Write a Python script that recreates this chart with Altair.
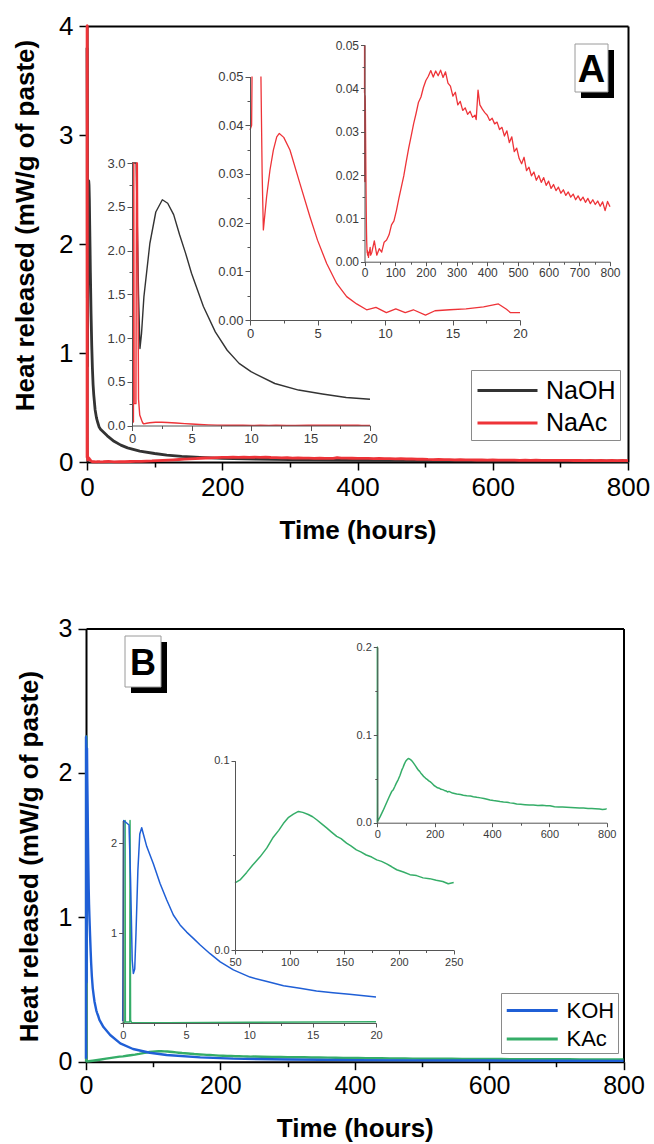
import json
import altair as alt
import pandas as pd

W, H = 654, 1144
FONT = "Liberation Sans"

# ---------------- data (hours, mW/g of paste) ----------------
naoh_t = [0, 0.35, 0.55, 0.67, 0.8, 1.0, 1.5, 2.0, 2.55, 3.0, 3.5, 4.0, 4.5, 5.0, 6.0, 7.0,
          8.0, 9.0, 10.0, 12.0, 14.0, 16.0, 18.0, 20.0, 25, 30, 40, 50, 60, 78, 100, 118,
          140, 167, 200, 250, 300, 400, 500, 600, 700, 800]
naoh_v = [3.8, 3.05, 1.5, 0.88, 1.05, 1.47, 2.08, 2.44, 2.58, 2.54, 2.41, 2.18, 1.97, 1.74,
          1.36, 1.07, 0.86, 0.71, 0.615, 0.48, 0.405, 0.36, 0.32, 0.30, 0.27, 0.24, 0.19,
          0.155, 0.13, 0.10, 0.078, 0.064, 0.052, 0.043, 0.034, 0.027, 0.022, 0.016, 0.013,
          0.011, 0.0095, 0.0085]

naac_t = [0, 0.12, 0.15, 0.18, 0.33, 0.38, 0.45, 0.55, 0.65, 0.81, 0.9, 0.99, 1.23, 1.48,
          1.73, 1.98, 2.17, 2.5, 2.96, 3.7, 4.44, 5.0, 5.68, 6.42, 7.16, 7.9, 8.64, 9.33, 10.1,
          10.8, 11.5, 12.1, 13.0, 13.7, 14.8, 16.0, 17.3, 18.4, 19.0, 19.3, 20.0,
          24, 32, 40, 48, 56, 64, 72, 80, 88, 96, 104, 112, 120, 128, 136, 144, 152, 160,
          168, 176, 184, 192, 200, 208, 216, 224, 232, 240, 248, 256, 264, 272, 280, 288,
          296, 304, 312, 320, 328, 336, 344, 352, 360, 364, 370, 376, 384, 392, 400, 408,
          416, 424, 432, 440, 448, 456, 464, 472, 480, 488, 496, 504, 512, 520, 528, 536,
          544, 552, 560, 568, 576, 584, 592, 600, 608, 616, 624, 632, 640, 648, 656, 664,
          672, 680, 688, 696, 704, 712, 720, 728, 736, 744, 752, 760, 768, 776, 784, 792, 800]
naac_v = [0.039, 0.040, 6.0, 0.25, 0.25, 6.0, 3.5, 0.3, 0.12, 0.06, 0.03, 0.0185, 0.0253,
          0.0308, 0.0349, 0.0376, 0.0383, 0.0375, 0.0349, 0.028, 0.0212, 0.0164, 0.0116,
          0.0075, 0.0048, 0.0033, 0.0021, 0.0026, 0.0015, 0.0023, 0.0015, 0.0021, 0.001,
          0.0019, 0.0021, 0.0023, 0.0027, 0.0033, 0.0022, 0.0015, 0.0015,
          0.0022, 0.0048, 0.0015, 0.0030, 0.0022, 0.0045, 0.0050, 0.0062, 0.0085, 0.0094,
          0.0118, 0.0146, 0.0172, 0.0198, 0.0231, 0.0262, 0.0290, 0.0318, 0.0342, 0.0368,
          0.0380, 0.0402, 0.0418, 0.0428, 0.0441, 0.0426, 0.0440, 0.0429, 0.0442, 0.0425,
          0.0438, 0.0412, 0.0405, 0.0382, 0.0391, 0.0362, 0.0370, 0.0349, 0.0355, 0.0340,
          0.0347, 0.0333, 0.0338, 0.0328, 0.0396, 0.0362, 0.0352, 0.0344, 0.0338, 0.0326,
          0.0331, 0.0318, 0.0322, 0.0305, 0.0310, 0.0290, 0.0302, 0.0275, 0.0288, 0.0254,
          0.0262, 0.0238, 0.0226, 0.0241, 0.0210, 0.0218, 0.0198, 0.0207, 0.0188, 0.0199,
          0.0183, 0.0194, 0.0176, 0.0186, 0.0169, 0.0178, 0.0164, 0.0172, 0.0158, 0.0166,
          0.0153, 0.0161, 0.0149, 0.0156, 0.0143, 0.0152, 0.0141, 0.0149, 0.0137, 0.0146,
          0.0134, 0.0143, 0.0132, 0.0140, 0.0128, 0.0138, 0.0118, 0.0139, 0.0127]

koh_t = [0, 0.08, 0.5, 0.62, 0.75, 0.84, 0.95, 1.05, 1.2, 1.35, 1.5, 1.63, 1.9, 2.42, 2.95,
         3.47, 4.0, 4.53, 5.05, 5.58, 6.1, 6.9, 7.7, 8.74, 10.05, 11.4, 12.7, 14.0, 15.3,
         16.6, 17.9, 20.0, 26, 36, 51, 70, 95, 120, 170, 219, 300, 400, 500, 600, 700, 800]
koh_v = [0.02, 2.25, 2.2, 1.6, 0.7, 0.55, 0.6, 1.0, 1.7, 2.1, 2.17, 2.1, 1.96, 1.77, 1.55,
         1.37, 1.2, 1.09, 1.01, 0.94, 0.87, 0.77, 0.68, 0.59, 0.51, 0.46, 0.415, 0.385,
         0.356, 0.337, 0.32, 0.29, 0.24, 0.185, 0.127, 0.088, 0.062, 0.046, 0.03, 0.021,
         0.015, 0.011, 0.009, 0.008, 0.007, 0.006]

kac_t = [0, 0.17, 0.19, 0.21, 0.56, 0.58, 0.62, 0.7, 1.0, 3.5, 10, 20, 30, 40, 50, 55, 60.7,
         66, 72.9, 79, 85, 90, 94.2, 99, 103.4, 108, 112, 117, 121, 124.7, 129, 133.8, 138,
         143, 147, 152, 156, 161, 165, 170, 175, 179.6, 184, 188.7, 193, 197.9, 204, 210,
         216, 222, 228, 234, 240, 245, 250, 262, 277, 290, 300, 312, 325, 335, 347, 360,
         372, 383, 393, 405, 417, 428, 440, 452, 463, 475, 486, 500, 515, 530, 544, 560,
         575, 590, 602, 618, 632, 646, 660, 675, 690, 705, 719, 735, 748, 760, 775, 785,
         794, 800]
kac_v = [0.0, 0.01, 2.25, 0.01, 0.01, 2.25, 0.03, 0.005, 0.002, 0.003, 0.007, 0.0137, 0.021,
         0.0285, 0.0355, 0.0372, 0.0410, 0.0448, 0.0492, 0.0538, 0.0596, 0.0632, 0.0668,
         0.0701, 0.0718, 0.0732, 0.0727, 0.0716, 0.0704, 0.0688, 0.0668, 0.0645, 0.0624,
         0.0600, 0.0588, 0.0565, 0.0550, 0.0529, 0.0518, 0.0502, 0.0491, 0.0476, 0.0468,
         0.0455, 0.0441, 0.0424, 0.0412, 0.0398, 0.0393, 0.0381, 0.0377, 0.0368, 0.0362,
         0.0350, 0.0357, 0.0338, 0.0327, 0.0322, 0.0313, 0.0308, 0.0304, 0.0296, 0.0289,
         0.0283, 0.0276, 0.0268, 0.0259, 0.0252, 0.0247, 0.0241, 0.0236, 0.0233, 0.0226,
         0.0221, 0.0213, 0.0209, 0.0205, 0.0201, 0.0202, 0.0196, 0.0199, 0.0192, 0.0194,
         0.0183, 0.0180, 0.0178, 0.0175, 0.0172, 0.0170, 0.0168, 0.0167, 0.0163, 0.0161,
         0.0160, 0.0156, 0.0150, 0.0152, 0.0160]

series_a = ["NaOH", "NaAc"]
colors_a = ["#333333", "#ee3338"]
series_b = ["KOH", "KAc"]
colors_b = ["#1f5fd6", "#35ad68"]


def frame(name, t, v):
    return pd.DataFrame({"series": name, "t": t, "v": v})


df_a = pd.concat([frame("NaOH", naoh_t, naoh_v), frame("NaAc", naac_t, naac_v)], ignore_index=True)
df_b = pd.concat([frame("KAc", kac_t, kac_v), frame("KOH", koh_t, koh_v)], ignore_index=True)


# ---------------- helpers ----------------
def ax(orient, pix, values, majors, fmt, size, tmaj, tmin, color, dwidth, lcolor,
       pad, title=None, **kw):
    offset = -pix if orient == "left" else -(H - pix)
    test = "indexof(%s, datum.value) < 0" % json.dumps(majors)
    show = "indexof(%s, datum.value) >= 0 ? datum.label : ''" % json.dumps(majors)
    args = dict(orient=orient, offset=offset, values=values, format=fmt, labelExpr=show,
                tickSize={"condition": {"test": test, "value": tmin}, "value": tmaj},
                labelFont=FONT, labelFontSize=size, labelColor=lcolor, labelPadding=pad,
                labelFlush=False, labelOverlap=False, grid=False,
                domainColor=color, domainWidth=dwidth, tickColor=color,
                tickWidth=max(1.0, dwidth * 0.75), title=title)
    args.update(kw)
    return alt.Axis(**args)


def steps(a, b, s, nd):
    out, k = [], 0
    while True:
        val = round(a + k * s, nd)
        if val > b + 1e-9:
            break
        out.append(val)
        k += 1
    return out


def line_layer(df, xdom, xr, ydom, yr, xaxis, yaxis, dom, rng, legend, sw, flt=None):
    ch = alt.Chart(df)
    if flt is not None:
        ch = ch.transform_filter(flt)
    top = ydom[1]
    # points that lie off-scale between two off-scale neighbours are left out,
    # so the path breaks above the top of the axis instead of running along it
    ch = ch.transform_window(
        prev="lag(v)", nxt="lead(v)", groupby=["series"], sort=[alt.SortField("t")]
    ).transform_calculate(
        vv="(datum.v > %r && datum.prev > %r && datum.nxt > %r) ? null : datum.v" % (top, top, top)
    )
    return ch.mark_line(strokeWidth=sw, strokeJoin="round",
                        invalid="break-paths-filter-domains").encode(
        x=alt.X("t:Q", scale=alt.Scale(domain=xdom, range=xr, nice=False, zero=False), axis=xaxis),
        y=alt.Y("vv:Q", scale=alt.Scale(domain=ydom, range=yr, nice=False, zero=False, clamp=True), axis=yaxis),
        color=alt.Color("series:N", scale=alt.Scale(domain=dom, range=rng), legend=legend),
    )


def frame_layer(df, xdom, xr, ydom, yr, top_pix, right_pix):
    return alt.Chart(df).mark_line(opacity=0).encode(
        x=alt.X("t:Q", scale=alt.Scale(domain=xdom, range=xr, nice=False, zero=False),
                axis=alt.Axis(orient="top", offset=-top_pix, labels=False, ticks=False,
                              domainColor="black", domainWidth=2, title=None, grid=False)),
        y=alt.Y("v:Q", scale=alt.Scale(domain=ydom, range=yr, nice=False, zero=False),
                axis=alt.Axis(orient="right", offset=-(W - right_pix), labels=False, ticks=False,
                              domainColor="black", domainWidth=2, title=None, grid=False)),
    )


def legend(x, y, fsize, line_len, row_gap, pad):
    # wide horizontal stroke symbol: path spans twice the layout box of the symbol
    d = line_len / 2.0
    return alt.Legend(orient="none", legendX=x, legendY=y, title=None, labelFont=FONT,
                      labelFontSize=fsize, labelColor="black", symbolType="M-2,0L2,0",
                      symbolSize=d * d, symbolStrokeWidth=3, symbolOffset=d / 2 + 1,
                      labelOffset=d / 2 + 7, padding=pad, rowPadding=row_gap - d,
                      strokeColor="#8a8a8a", fillColor="white", direction="vertical")


main_common = dict(color="black", dwidth=2, lcolor="black", tmaj=8, tmin=5,
                   titleFont=FONT, titleFontSize=26, titleFontWeight="bold", titleColor="black")

# ---------------- panel A ----------------
A_X, A_R, A_Y0, A_Y1 = 87, 628, 462, 26
main_a = line_layer(
    df_a, [0, 800], [A_X, A_R], [0, 4], [A_Y0, A_Y1],
    ax("bottom", A_Y0, steps(0, 800, 100, 0), [0, 200, 400, 600, 800], "d", 26, pad=4.5,
       title="Time (hours)", titlePadding=17, **main_common),
    ax("left", A_X, steps(0, 4, 0.5, 1), [0, 1, 2, 3, 4], "d", 26, pad=6,
       title="Heat released (mW/g of paste)", titlePadding=20, titleY=225, **main_common),
    series_a, colors_a, legend(471, 370, 25, 60, 32.4, 4), 2.8,
)

# ---------------- panel B ----------------
B_X, B_R, B_Y0, B_Y1 = 86, 623.5, 1061.7, 628.5
main_b = line_layer(
    df_b, [0, 800], [B_X, B_R], [0, 3], [B_Y0, B_Y1],
    ax("bottom", B_Y0, steps(0, 800, 100, 0), [0, 200, 400, 600, 800], "d", 25, pad=4,
       title="Time (hours)", titlePadding=17, **main_common),
    ax("left", B_X, steps(0, 3, 0.5, 1), [0, 1, 2, 3], "d", 25, pad=6,
       title="Heat released (mW/g of paste)", titlePadding=16, titleY=856, **main_common),
    series_b, colors_b, legend(501, 993, 22, 51, 28, 3), 2.4,
)

frame_a = frame_layer(df_a, [0, 800], [A_X, A_R], [0, 4], [A_Y0, A_Y1], A_Y1, A_R)
frame_b = frame_layer(df_b, [0, 800], [B_X, B_R], [0, 3], [B_Y0, B_Y1], B_Y1, B_R)

ins = dict(color="#555555", dwidth=1, lcolor="#3a3a3a", pad=2, zindex=1)

# inset A1
a1 = line_layer(
    df_a, [0, 20], [132, 370], [0, 3], [425.5, 163],
    ax("bottom", 425.5, steps(0, 20, 2.5, 1), [0, 5, 10, 15, 20], "d", 13, tmaj=5, tmin=3, **ins),
    ax("left", 132, steps(0, 3, 0.25, 2), [0, 0.5, 1, 1.5, 2, 2.5, 3], ".1f", 13, tmaj=5, tmin=3, **ins),
    series_a, colors_a, None, 1.4, flt=alt.datum.t <= 20,
)
# inset A2
a2 = line_layer(
    df_a, [0, 20], [250, 520], [0, 0.05], [320, 76.5],
    ax("bottom", 320, steps(0, 20, 2.5, 1), [0, 5, 10, 15, 20], "d", 13, tmaj=5, tmin=3, **ins),
    ax("left", 250, steps(0, 0.05, 0.005, 3), [0, 0.01, 0.02, 0.03, 0.04, 0.05], ".2f", 13, tmaj=5, tmin=3, **ins),
    series_a, colors_a, None, 1.3,
    flt=(alt.datum.t <= 20) & (alt.datum.series == "NaAc"),
)
# inset A3
a3 = line_layer(
    df_a, [0, 800], [364.5, 610], [0, 0.05], [261.7, 45],
    ax("bottom", 261.7, steps(0, 800, 50, 0), steps(0, 800, 100, 0), "d", 12, tmaj=4, tmin=2.5, **ins),
    ax("left", 364.5, steps(0, 0.05, 0.005, 3), [0, 0.01, 0.02, 0.03, 0.04, 0.05], ".2f", 12, tmaj=4, tmin=2.5, **ins),
    series_a, colors_a, None, 1.3, flt=alt.datum.series == "NaAc",
)
# inset B1
b1 = line_layer(
    df_b, [0, 20], [122.7, 376], [0, 2.25], [1023, 820.5],
    ax("bottom", 1023, steps(0, 20, 2.5, 1), [0, 5, 10, 15, 20], "d", 11, tmaj=4, tmin=2.5, **ins),
    ax("left", 122.7, steps(0, 2, 0.5, 1), [1, 2], "d", 11, tmaj=4, tmin=2.5, **ins),
    series_b, colors_b, None, 1.5, flt=alt.datum.t <= 20,
)
# inset B2
b2 = line_layer(
    df_b, [50, 250], [235, 453.7], [0, 0.1], [950, 760.7],
    ax("bottom", 950, steps(50, 250, 25, 0), [50, 100, 150, 200, 250], "d", 11, tmaj=4, tmin=2.5, **ins),
    ax("left", 235, steps(0, 0.1, 0.05, 2), [0, 0.1], ".1f", 11, tmaj=4, tmin=2.5, **ins),
    series_b, colors_b, None, 1.5,
    flt=(alt.datum.series == "KAc") & (alt.datum.t >= 50) & (alt.datum.t <= 250),
)
# inset B3
b3 = line_layer(
    df_b, [0, 800], [377.3, 606.7], [0, 0.2], [822.7, 647.3],
    ax("bottom", 822.7, steps(0, 800, 100, 0), [0, 200, 400, 600, 800], "d", 11, tmaj=4, tmin=2.5, **ins),
    ax("left", 377.3, steps(0, 0.2, 0.05, 2), [0, 0.1, 0.2], ".1f", 11, tmaj=4, tmin=2.5, **ins),
    series_b, colors_b, None, 1.5, flt=alt.datum.series == "KAc",
)

# ---------------- panel tags ----------------
one = pd.DataFrame({"k": [0]})


def tag(letter, x0, y0, x1, y1, tx, ty, size):
    shadow = alt.Chart(one).mark_rect(color="black").encode(
        x=alt.value(x0 + 6), x2=alt.value(x1 + 6), y=alt.value(y0 + 6), y2=alt.value(y1 + 6))
    box = alt.Chart(one).mark_rect(fill="white", stroke="#9a9a9a", strokeWidth=1).encode(
        x=alt.value(x0), x2=alt.value(x1), y=alt.value(y0), y2=alt.value(y1))
    txt = alt.Chart(one).mark_text(font=FONT, fontSize=size, fontWeight="bold", color="black",
                                   align="center", baseline="alphabetic").encode(
        x=alt.value(tx), y=alt.value(ty), text=alt.value(letter))
    return [shadow, box, txt]


layers = [main_a, main_b, frame_a, frame_b, a1, a2, a3, b1, b2, b3]
layers += tag("A", 575, 44, 608, 92, 591.5, 82, 38)
layers += tag("B", 125, 636, 161, 687, 143, 675, 36)

chart = alt.layer(*layers).resolve_scale(
    x="independent", y="independent", color="independent"
).properties(
    width=W, height=H, autosize=alt.AutoSizeParams(type="none"), padding=0,
    background="white",
).configure_view(strokeWidth=0)

chart.save("out.html", embed_options={"renderer": "svg", "actions": False})
